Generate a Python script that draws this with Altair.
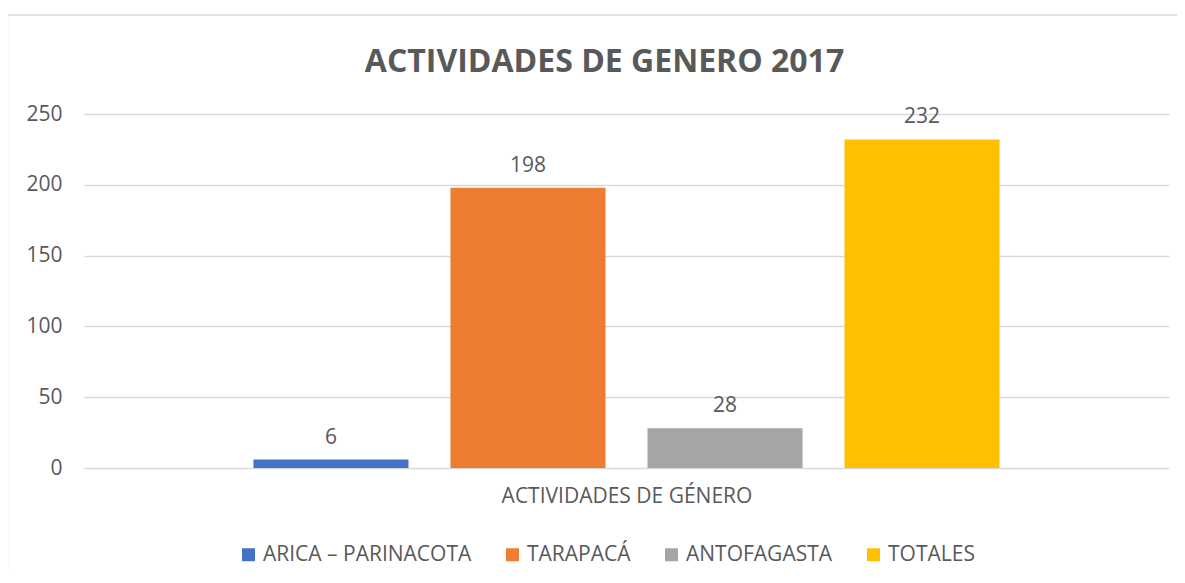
import altair as alt
import pandas as pd

series = ["ARICA – PARINACOTA", "TARAPACÁ", "ANTOFAGASTA", "TOTALES"]
values = [6, 198, 28, 232]
colors = ["#4472C4", "#ED7D31", "#A5A5A5", "#FFC000"]
category = "ACTIVIDADES DE GÉNERO"
title_text = "ACTIVIDADES DE GENERO 2017"
y_ticks = [0, 50, 100, 150, 200, 250]

df = pd.DataFrame({"serie": series, "valor": values})

FONT = "Open Sans"
TXT = "#595959"

x_enc = alt.X(
    "serie:N",
    sort=series,
    scale=alt.Scale(domain=series, paddingInner=0.213, paddingOuter=0.86),
    axis=alt.Axis(
        title=category, labels=False, ticks=False, domain=False,
        titleFont=FONT, titleFontSize=21, titleFontWeight="normal",
        titleColor=TXT, titlePadding=17,
    ),
)
y_enc = alt.Y(
    "valor:Q",
    scale=alt.Scale(domain=[0, 250], nice=False),
    axis=alt.Axis(
        values=y_ticks, title=None, ticks=False, domain=False,
        labelFont=FONT, labelFontSize=21, labelColor=TXT, labelPadding=22,
        gridColor="#D9D9D9", gridWidth=1.5,
    ),
)

frame = alt.Chart(pd.DataFrame({"a": [0]})).mark_rect(
    fill=None, stroke="#D9D9D9", strokeWidth=1.3
).encode(
    x=alt.value(-76.5), x2=alt.value(1120), y=alt.value(-99), y2=alt.value(480)
)

bars = alt.Chart(df).mark_bar().encode(
    x=x_enc,
    y=y_enc,
    color=alt.Color(
        "serie:N",
        sort=series,
        scale=alt.Scale(domain=series, range=colors),
        legend=alt.Legend(
            title=None, orient="none", direction="horizontal",
            legendX=154, legendY=430,
            symbolType="square", symbolSize=169, symbolStrokeWidth=0,
            labelFont=FONT, labelFontSize=21, labelColor=TXT, labelLimit=500,
            labelOffset=4, columnPadding=30,
        ),
    ),
)

labels = alt.Chart(df).mark_text(
    baseline="bottom", dy=-12, font=FONT, fontSize=21, color=TXT
).encode(
    x=alt.X("serie:N", sort=series),
    y="valor:Q",
    text="valor:Q",
)

chart = alt.layer(frame, bars, labels).properties(
    width=1085,
    height=354,
    background="white",
    title=alt.TitleParams(
        title_text, font=FONT, fontSize=32, fontWeight="bold", color=TXT,
        anchor="middle", dx=-22, offset=0, baseline="alphabetic", dy=90,
    ),
    autosize=alt.AutoSizeParams(type="none"),
    padding={"left": 76, "top": 106, "right": 8, "bottom": 106},
).configure_view(stroke="transparent", strokeWidth=0)

chart.save("out.html", embed_options={"renderer": "svg", "actions": False})
